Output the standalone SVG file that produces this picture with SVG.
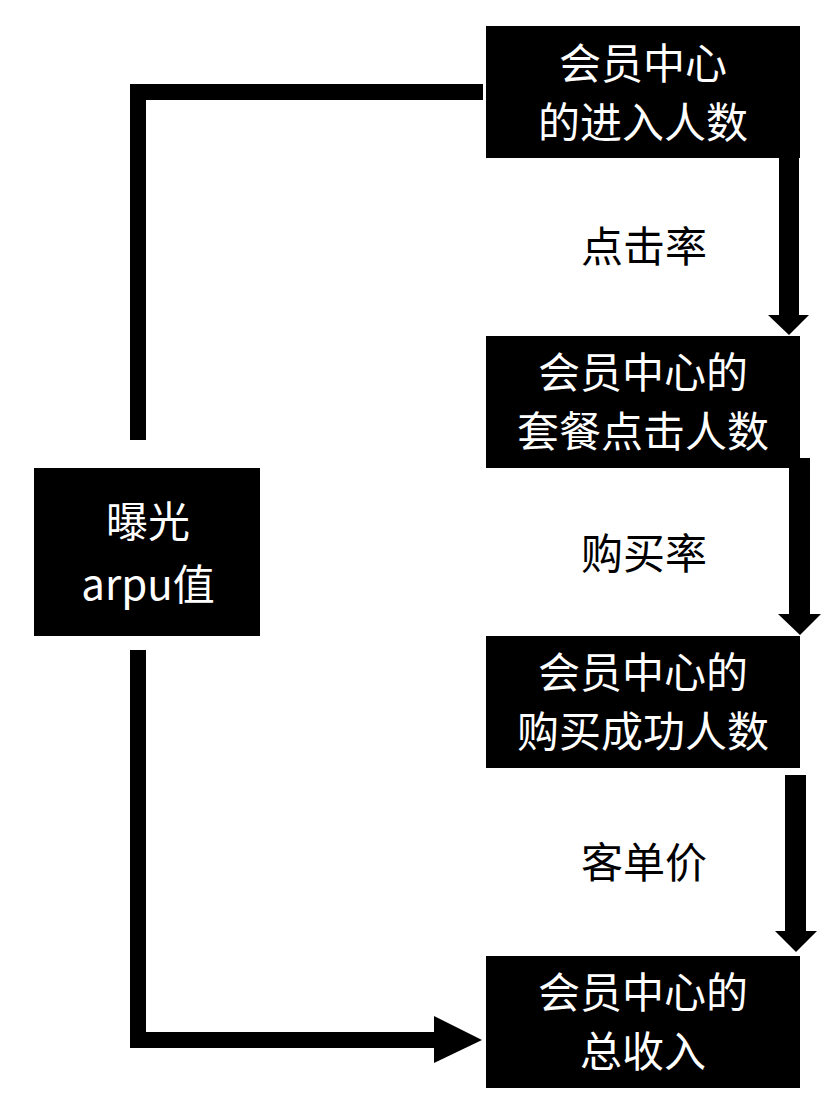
<svg xmlns="http://www.w3.org/2000/svg" width="834" height="1104" viewBox="0 0 834 1104">
<style>
.box{fill:#000}
.t{font-family:"Noto Sans CJK SC","Microsoft YaHei",sans-serif;font-size:42px;text-anchor:middle}
.w{fill:#fff}
.k{fill:#000}
.ln{fill:none;stroke:#000;stroke-width:16;stroke-linejoin:miter}
</style>
<rect width="834" height="1104" fill="#fff"/>
<g id="connectors">
<polyline class="ln" points="138,440 138,92 483,92"/>
<polyline class="ln" points="138,650 138,1040 436,1040"/>
<polygon points="434,1016 482,1040 434,1063"/>
<polygon points="779,157 799,157 799,315 809,315 789,335 768,315 779,315"/>
<polygon points="789,458 810,458 810,614 821,614 800,635 778,614 789,614"/>
<polygon points="785,775 806,775 806,931 817,931 796,952 775,931 785,931"/>
<text class="t k" x="644" y="262">点击率</text>
<text class="t k" x="644" y="569">购买率</text>
<text class="t k" x="644" y="878">客单价</text>
</g>
<g id="n1">
<rect class="box" x="486" y="26" width="314" height="132"/>
<text class="t w" x="643" y="79">会员中心</text>
<text class="t w" x="643" y="138">的进入人数</text>
</g>
<g id="n2">
<rect class="box" x="486" y="336" width="314" height="132"/>
<text class="t w" x="643" y="388">会员中心的</text>
<text class="t w" x="643" y="447">套餐点击人数</text>
</g>
<g id="n3">
<rect class="box" x="486" y="636" width="314" height="132"/>
<text class="t w" x="643" y="688">会员中心的</text>
<text class="t w" x="643" y="747">购买成功人数</text>
</g>
<g id="n4">
<rect class="box" x="486" y="956" width="314" height="132"/>
<text class="t w" x="643" y="1008">会员中心的</text>
<text class="t w" x="643" y="1067">总收入</text>
</g>
<g id="n5">
<rect class="box" x="34" y="468" width="226" height="168"/>
<text class="t w" x="148" y="537">曝光</text>
<text class="t w" x="148" y="600">arpu值</text>
</g>
</svg>
